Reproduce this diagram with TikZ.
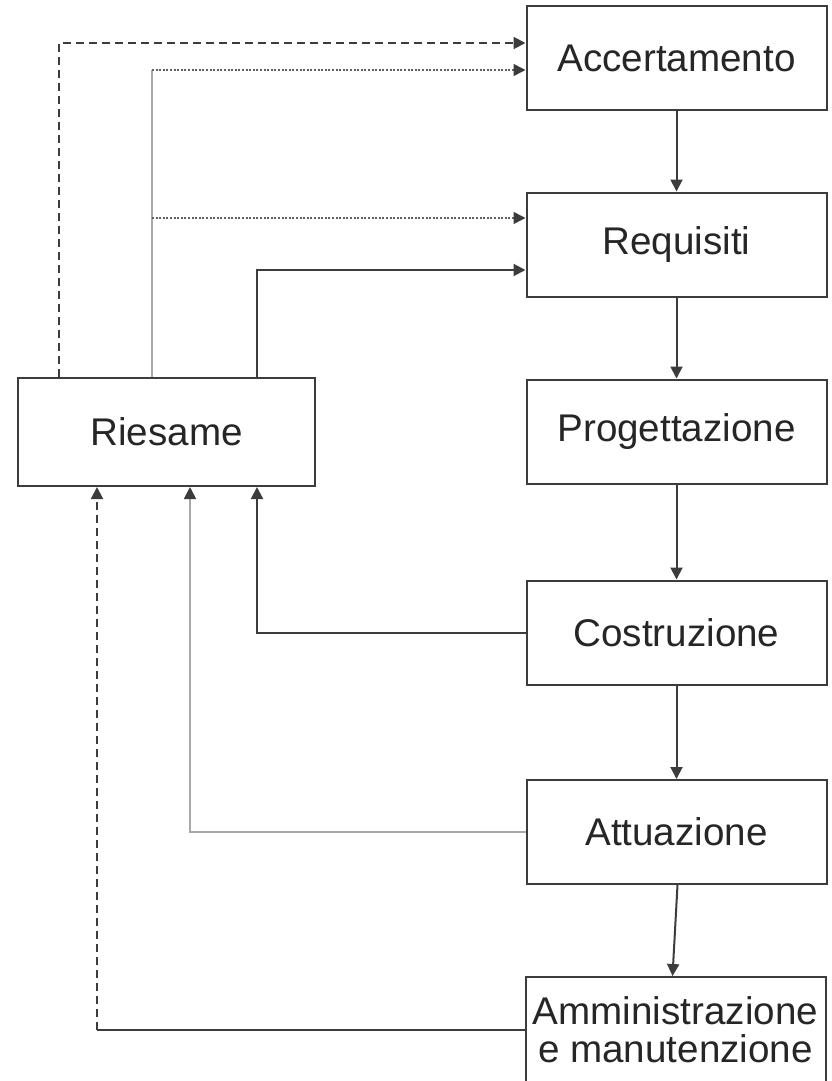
\documentclass[tikz,border=0pt]{standalone}
\usepackage{fontspec}
\setmainfont{Liberation Sans}
\usetikzlibrary{arrows.meta}
\definecolor{dk}{HTML}{3C3C3C}
\definecolor{lg}{HTML}{A8A8A8}
\definecolor{dt}{HTML}{606060}
\definecolor{tx}{HTML}{262626}
\tikzset{
  stage/.style={draw=dk, line width=1pt, minimum width=150pt, minimum height=52pt,
    inner sep=0pt, align=center, text=tx, font=\fontsize{19.3}{19}\selectfont},
  tip/.style={-{Triangle[length=6pt,width=6pt,color=dk]}},
  darkline/.style={draw=dk, line width=1pt},
  greyline/.style={draw=lg, line width=0.9pt},
  dotline/.style={draw=dt, line width=0.8pt, dash pattern=on 1pt off 0.8pt},
  dashline/.style={draw=dk, line width=1pt, dash pattern=on 4pt off 2.5pt},
}
\begin{document}
\begin{tikzpicture}[x=0.5pt,y=-0.5pt]
\useasboundingbox (0,0) rectangle (831,1081);
\node[stage] (acc) at (676.5,58) {Accertamento};
\node[stage] (req) at (676.5,244.5) {Requisiti};
\node[stage] (prog) at (676.5,431.5) {Progettazione};
\node[stage] (costr) at (676.5,632.5) {Costruzione};
\node[stage] (attu) at (676.5,832) {Attuazione};
\node[stage, minimum height=53pt] (amm) at (675.5,1030) {Amministrazione\\e manutenzione};
\node[stage, minimum width=148.5pt, minimum height=54pt] (ries) at (166.5,432) {Riesame};

% main chain
\draw[darkline,tip] (acc.south) -- (req.north);
\draw[darkline,tip] (req.south) -- (prog.north);
\draw[darkline,tip] (prog.south) -- (costr.north);
\draw[darkline,tip] (costr.south) -- (attu.north);
\draw[darkline,tip] ([xshift=0.5pt]attu.south) -- ([xshift=-1.5pt]amm.north);

% target points
\coordinate (a1) at ([yshift=7.5pt]acc.west);
\coordinate (a2) at ([yshift=-6pt]acc.west);
\coordinate (q1) at ([yshift=13.25pt]req.west);
\coordinate (q2) at ([yshift=-12.75pt]req.west);

% from Riesame upward
\coordinate (r1) at ([xshift=21pt]ries.north west);
\coordinate (r2) at ([xshift=67.5pt]ries.north west);
\coordinate (r3) at ([xshift=120pt]ries.north west);
\draw[dashline,tip] (r1) |- (a1);
\coordinate (g1) at (r2 |- a2);
\draw[greyline] (r2) -- (g1);
\draw[dotline,tip] (g1) -- (a2);
\coordinate (g2) at (r2 |- q1);
\draw[dotline,tip] (g2) -- (q1);
\draw[darkline,tip] (r3) |- (q2);

% back into Riesame from below
\coordinate (b1) at ([xshift=40pt]ries.south west);
\coordinate (b2) at ([xshift=86.5pt]ries.south west);
\coordinate (b3) at ([xshift=120pt]ries.south west);
\draw[darkline,tip] (costr.west) -| (b3);
\draw[greyline,tip] (attu.west) -| (b2);
\coordinate (c1) at (b1 |- amm.west);
\draw[darkline] (amm.west) -- (c1);
\draw[dashline,tip] (c1) -- (b1);
\end{tikzpicture}
\end{document}
